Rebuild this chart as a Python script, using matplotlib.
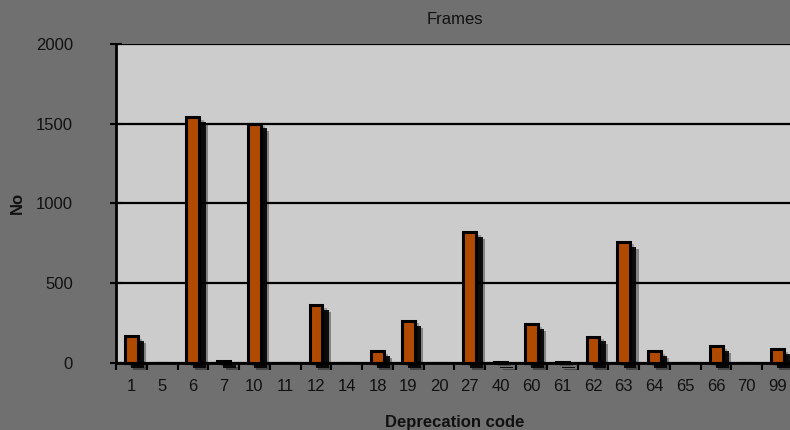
import matplotlib.pyplot as plt
import matplotlib.patheffects as pe

plt.rcParams['font.family'] = ['Liberation Sans', 'DejaVu Sans']

# codes and counts
codigos = ['1', '5', '6', '7', '10', '11', '12', '14', '18', '19', '20',
           '27', '40', '60', '61', '62', '63', '64', '65', '66', '70', '99']
valores = [170, 0, 1540, 15, 1500, 0, 360, 0, 75, 265, 0,
           820, 5, 245, 5, 165, 760, 75, 0, 105, 0, 85]

fundo = '#707070'
area = '#cccccc'
cor_barra = '#b04a00'

fig = plt.figure(figsize=(7.9, 4.3), dpi=100, facecolor=fundo)
ax = fig.add_axes([0.1468, 0.156, 0.857, 0.742])
ax.set_facecolor(area)

x = list(range(len(codigos)))

# sombra das barras (varias camadas para suavizar)
sombra = [pe.SimplePatchShadow(offset=(3, -2), shadow_rgbFace='black', alpha=0.25),
          pe.SimplePatchShadow(offset=(6, -5), shadow_rgbFace='black', alpha=0.35),
          pe.SimplePatchShadow(offset=(4.5, -3.5), shadow_rgbFace='black', alpha=0.9),
          pe.Normal()]
barras = ax.bar(x, valores, width=0.42, color=cor_barra, edgecolor='black',
                linewidth=2.2, zorder=3)
for b in barras:
    if b.get_height() > 0:
        b.set_path_effects(sombra)
        b.set_clip_on(False)

ax.set_xlim(-0.5, len(codigos) - 0.5)
ax.set_ylim(0, 2000)
ax.set_yticks([0, 500, 1000, 1500, 2000])
ax.yaxis.grid(True, color='black', linewidth=1.6, zorder=1)
ax.set_axisbelow(True)

ax.set_xticks(x)
ax.set_xticklabels(codigos)
ax.set_xticks([i - 0.5 for i in x], minor=True)
ax.tick_params(axis='x', which='major', length=0, pad=11.5, labelsize=12,
               labelcolor='#111111')
ax.tick_params(axis='x', which='minor', length=5, width=1.5, direction='out')
ax.tick_params(axis='y', length=8, width=1.5, direction='inout', pad=27,
               labelsize=12, labelcolor='#111111')

for lado in ['top', 'right']:
    ax.spines[lado].set_visible(False)
ax.spines['left'].set_linewidth(2)
ax.spines['bottom'].set_linewidth(2)

ax.set_title('Frames', fontsize=12, color='#111111', pad=14)
ax.set_xlabel('Deprecation code', fontsize=12, fontweight='bold',
              color='#111111', labelpad=15)
ax.set_ylabel('No', fontsize=12, fontweight='bold', color='#111111',
              labelpad=8)

fig.savefig('out.png', dpi=100, facecolor=fundo)
